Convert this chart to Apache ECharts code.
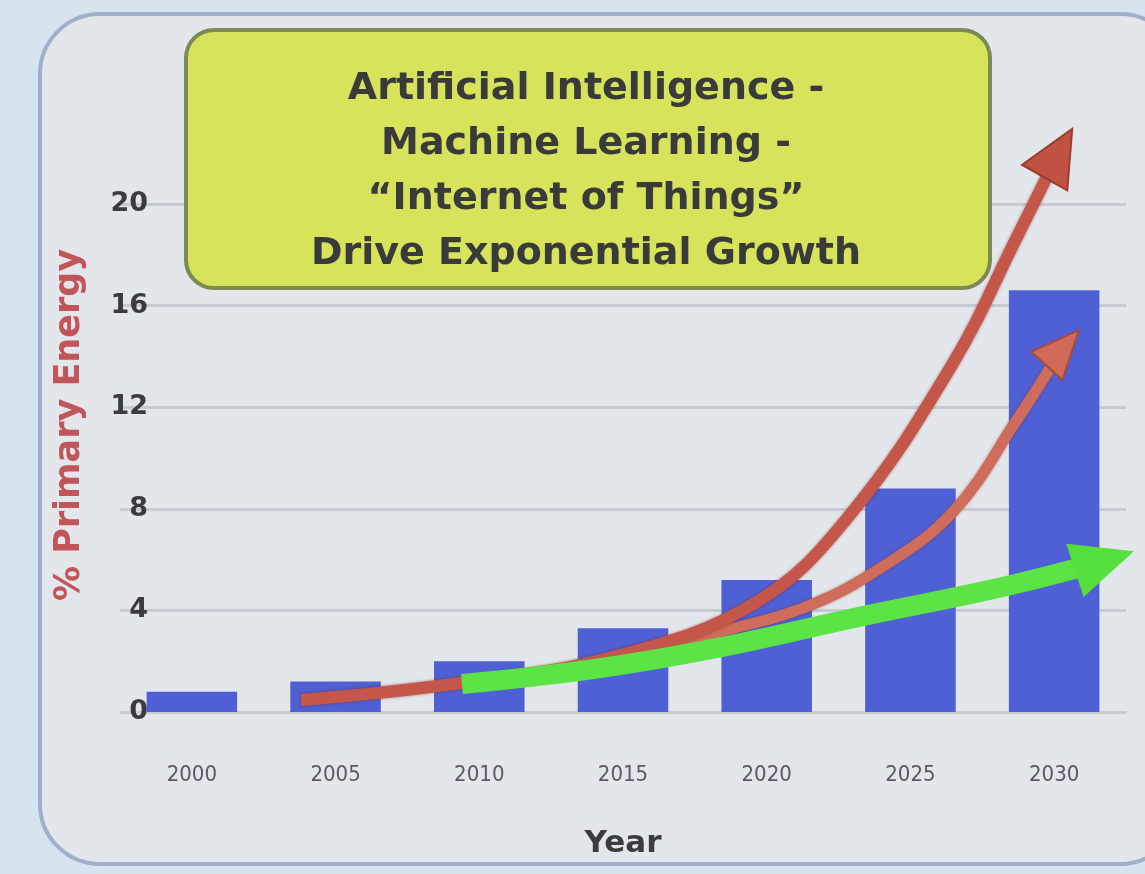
<!DOCTYPE html>
<html>
<head>
<meta charset="utf-8">
<script src="https://cdn.jsdelivr.net/npm/echarts@6/dist/echarts.min.js"></script>
<style>
html,body{margin:0;padding:0;background:#d6e4f0;}
#chart{width:1145px;height:874px;}
</style>
</head>
<body>
<div id="chart"></div>
<script>
// Data
const years = ['2000', '2005', '2010', '2015', '2020', '2025', '2030'];
const energyShare = [0.8, 1.2, 2.0, 3.3, 5.2, 8.8, 16.6];
const titleLines = ['Artificial Intelligence -', 'Machine Learning -', '\u201cInternet of Things\u201d', 'Drive Exponential Growth'];
const yAxisName = '% Primary Energy';
const xAxisName = 'Year';
// Hand-drawn trend arrows, [category position, % value]
const redUpper = [[0.76, 0.47], [1.87, 1.14], [2.98, 2.24], [3.92, 4.3], [4.55, 7.56], [5.28, 13.58], [5.75, 18.8], [6.03, 22.0]];
const redLower = [[2.98, 2.24], [3.7, 3.2], [4.3, 4.2], [4.8, 5.7], [5.3, 7.9], [5.74, 11.5], [6.06, 14.33]];
const greenTrend = [[1.88, 1.1], [2.84, 1.73], [3.69, 2.56], [4.64, 3.74], [5.64, 4.92], [6.35, 5.95]];

function arrowData(points, rotate, size) {
  return points.map((p, i) => i === points.length - 1
    ? { value: p, symbol: 'triangle', symbolSize: size, symbolRotate: rotate }
    : { value: p, symbol: 'none' });
}

const chart = echarts.init(document.getElementById('chart'));
chart.setOption({
  backgroundColor: '#d6e4f0',
  animation: false,
  grid: { left: 120, right: 19, top: 204, bottom: 162, containLabel: false },
  graphic: [
    { type: 'rect', z: -10, shape: { x: 40, y: 14, width: 1140, height: 850, r: 60 },
      style: { fill: '#e3e7eb', stroke: '#9fb0c8', lineWidth: 4 } },
    { type: 'rect', z: 50, shape: { x: 186, y: 30, width: 804, height: 258, r: 28 },
      style: { fill: '#d6e35b', stroke: '#7c8a55', lineWidth: 4 } },
    { type: 'text', z: 51, x: 586, y: 62,
      style: { text: titleLines.join('\n'), align: 'center', fill: '#3a3a3a',
        font: 'bold 38px "DejaVu Sans"', lineHeight: 55 } },
    { type: 'text', z: 51, x: 70, y: 425, rotation: Math.PI / 2,
      style: { text: yAxisName, fill: '#c1555a', font: 'bold 35px "DejaVu Sans"',
        align: 'center', verticalAlign: 'middle' } }
  ],
  xAxis: [
    { type: 'category', data: years, boundaryGap: true,
      axisLine: { show: true, lineStyle: { color: '#c9ced4', width: 2 } },
      axisTick: { show: false },
      axisLabel: { margin: 52, color: '#5a5a64', fontSize: 22, fontFamily: 'DejaVu Sans Condensed' },
      name: xAxisName, nameLocation: 'middle', nameGap: 116,
      nameTextStyle: { color: '#3c3c3c', fontSize: 31, fontWeight: 'bold', fontFamily: 'DejaVu Sans' } },
    { type: 'value', min: -0.5, max: 6.5, show: false }
  ],
  yAxis: {
    type: 'value', min: 0, max: 20, interval: 4,
    axisLine: { show: false }, axisTick: { show: false },
    axisLabel: { margin: -28, color: '#3c3c3c', fontSize: 27, fontWeight: 'bold', fontFamily: 'DejaVu Sans' },
    splitLine: { lineStyle: { color: '#c6cbd1', width: 3 } }
  },
  series: [
    { type: 'bar', data: energyShare, barWidth: '63%', itemStyle: { color: '#4f60d4' }, z: 2 },
    { type: 'line', xAxisIndex: 1, smooth: 0.4, clip: false, z: 5,
      data: arrowData(redUpper, -29.5, [52, 56]), symbol: 'none', showSymbol: true,
      itemStyle: { color: '#bf5242', borderColor: '#9c3c30', borderWidth: 2 },
      lineStyle: { color: '#c4574a', width: 12, shadowColor: 'rgba(120,30,20,0.6)', shadowBlur: 3 } },
    { type: 'line', xAxisIndex: 1, smooth: 0.4, clip: false, z: 4,
      data: arrowData(redLower, -42, [42, 48]), symbol: 'none', showSymbol: true,
      itemStyle: { color: '#d06a5a', borderColor: '#a84a3a', borderWidth: 2 },
      lineStyle: { color: '#cf6c5b', width: 11, shadowColor: 'rgba(120,30,20,0.5)', shadowBlur: 3 } },
    { type: 'line', xAxisIndex: 1, smooth: 0.4, clip: false, z: 6,
      data: arrowData(greenTrend, -72, [56, 62]), symbol: 'none', showSymbol: true,
      itemStyle: { color: '#55e03e' },
      lineStyle: { color: '#5ce346', width: 20 } }
  ]
});
</script>
</body>
</html>
